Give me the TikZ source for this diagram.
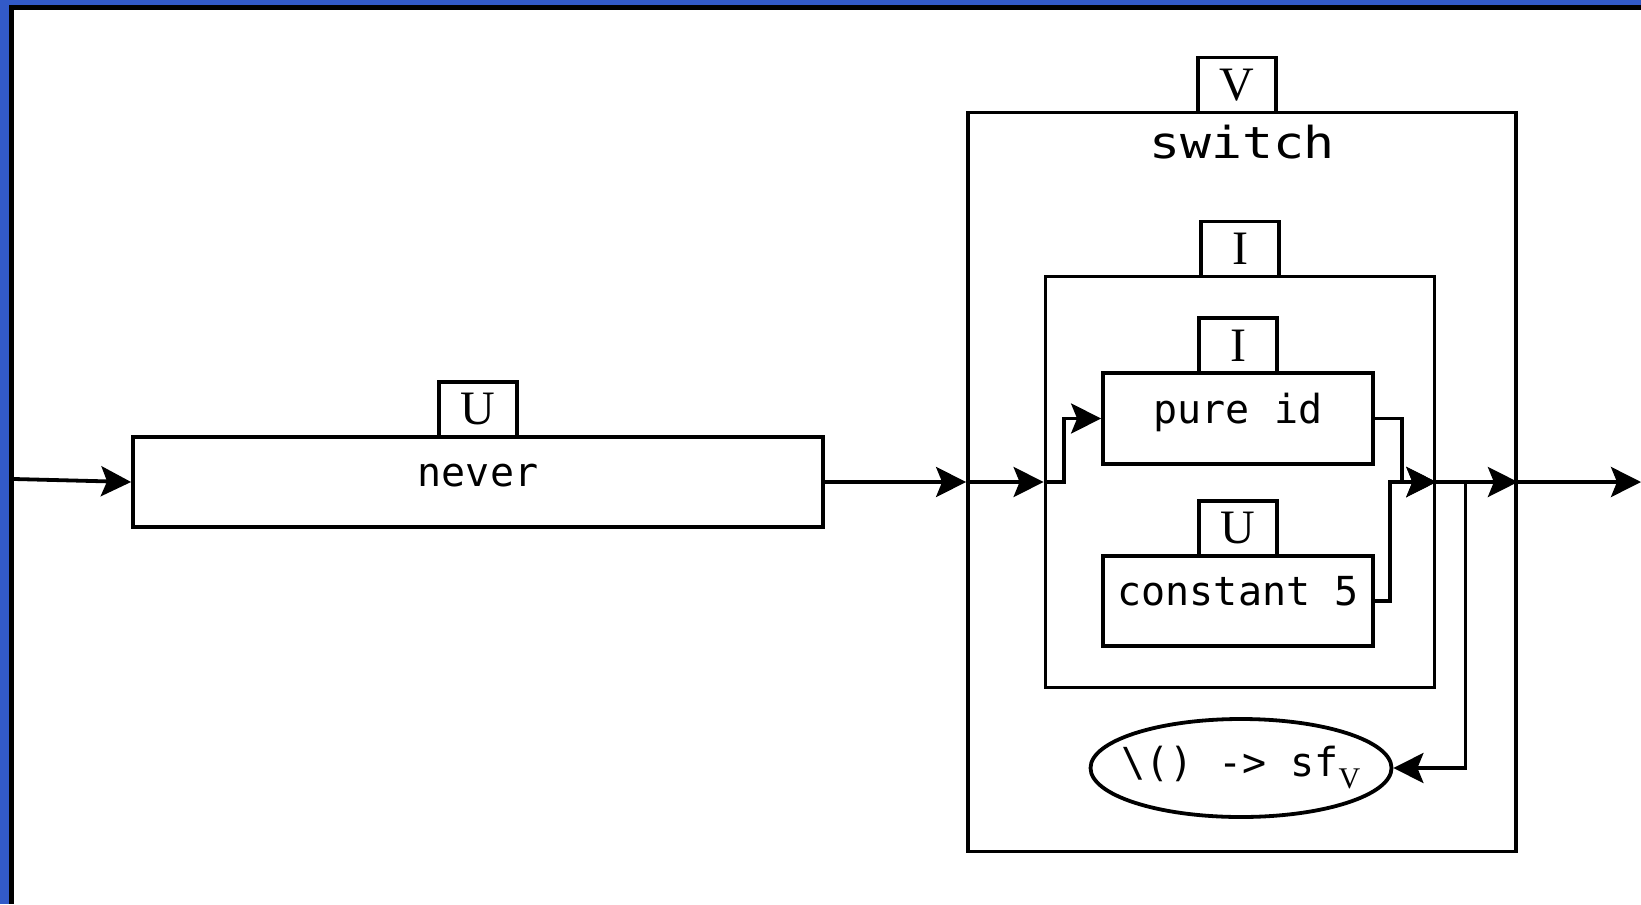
\documentclass[tikz,border=0pt]{standalone}
\usepackage{fontspec}
\usepackage{graphicx}
\setmonofont{DejaVu Sans Mono}
\newfontfamily\tagfont{Liberation Serif}
\usetikzlibrary{arrows.meta,positioning,shapes.geometric}
\definecolor{frameblue}{RGB}{50,90,200}

\tikzstyle{block}=[draw, line width=1.9pt, inner sep=0pt, font=\ttfamily\fontsize{20pt}{24pt}\selectfont, text height=15pt, text depth=10.5pt]
\tikzstyle{tag}=[draw, line width=1.9pt, fill=white, minimum width=39pt, minimum height=27.5pt, inner sep=0pt, font=\tagfont\fontsize{24pt}{28pt}\selectfont]
\tikzstyle{thunk}=[draw, ellipse, line width=1.9pt, inner xsep=-6.5pt, inner ysep=0pt, minimum width=150.5pt, minimum height=49pt, font=\ttfamily\fontsize{20pt}{24pt}\selectfont]
\tikzstyle{wire}=[line width=1.9pt, ->]

\begin{document}
\begin{tikzpicture}[x=0.5pt, y=-0.5pt, >={Stealth[length=15pt, width=15pt, inset=3pt]}]
          \useasboundingbox (0,0) rectangle (1641,904);
          \fill[frameblue] (0,0) rectangle (1641,904);
          \fill[black] (9,5) rectangle (1641,904);
          \fill[white] (14,10) rectangle (1641,904);

          \node (never) [block, minimum width=345pt, minimum height=45pt] at (478,482) {never};
          \node (neverT) [tag, above=-1.9pt of never] {U};

          \node (switch) [block, minimum width=274pt, minimum height=369.5pt] at (1242,482) {};
          \node (switchT) [tag, above=-1.9pt of switch, xshift=-2.5pt] {V};
          \node (swname) [anchor=base, font=\ttfamily\fontsize{22pt}{26pt}\selectfont]
                at ([yshift=-24pt]switch.north) {\scalebox{1.17}[1]{switch}};

          \node (ibox) [block, minimum width=194.5pt, minimum height=205.5pt] at (1240,482) {};
          \node (iboxT) [tag, above=-1.9pt of ibox] {I};

          \node (pure) [block, minimum width=135pt, minimum height=45.5pt] at (1238,418.5) {pure id};
          \node (pureT) [tag, above=-1.9pt of pure] {I};
          \node (const) [block, minimum width=135pt, minimum height=45pt] at (1238,601) {constant 5};
          \node (constT) [tag, above=-1.9pt of const] {U};

          \node (lam) [thunk] at (1241,768)
                {\textbackslash() -> sf\raisebox{-6pt}{\tagfont\fontsize{15pt}{18pt}\selectfont V}};

          \coordinate (in) at (14,479);
          \coordinate (out) at (1641,482);

          \draw [wire] (in) -- (never.west);
          \draw [wire] (never.east) -- (switch.west);
          \draw [wire] (switch.west) -- (ibox.west);
          \draw [wire] (ibox.west) -- ++(20,0) |- (pure.west);
          \draw [wire] (pure.east) -- ++(27,0) |- (ibox.east);
          \draw [wire] (const.east) -- ++(15,0) |- (ibox.east);
          \draw [wire] (ibox.east) -- (switch.east);
          \draw [wire] (ibox.east) -- ++(29,0) |- (lam.east);
          \draw [wire] (switch.east) -- (out);
    \end{tikzpicture}
\end{document}
